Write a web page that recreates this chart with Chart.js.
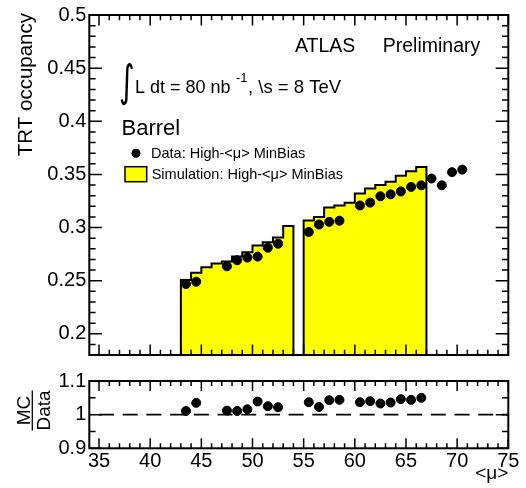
<!DOCTYPE html>
<html>
<head>
<meta charset="utf-8">
<script src="https://cdn.jsdelivr.net/npm/chart.js@4.4.1/dist/chart.umd.min.js"></script>
<style>
  html, body { margin: 0; padding: 0; background: #fff; }
  #wrap { position: relative; width: 526px; height: 488px; }
  #main { position: absolute; left: 0; top: 0; }
  #ratio { position: absolute; left: 0; top: 366px; }
</style>
</head>
<body>
<div id="wrap">
  <canvas id="main" width="526" height="370"></canvas>
  <canvas id="ratio" width="526" height="122"></canvas>
</div>
<script>
// --- values
const dataMu  = [43.5, 44.5, 47.5, 48.5, 49.5, 50.5, 51.5, 52.5,
                 55.5, 56.5, 57.5, 58.5, 60.5, 61.5, 62.5, 63.5, 64.5, 65.5, 66.5,
                 67.5, 68.5, 69.5, 70.5];
const dataOcc = [0.2468, 0.2490, 0.2635, 0.2692, 0.2717, 0.2726, 0.2810, 0.2847,
                 0.2958, 0.3028, 0.3053, 0.3064, 0.3207, 0.3234, 0.3294, 0.3312, 0.3339, 0.3382, 0.3397,
                 0.3461, 0.3397, 0.3521, 0.3545];

// simulation histogram: lower bin edge (width 1) and content
const mcBinLow = [43, 44, 45, 46, 47, 48, 49, 50, 51, 52, 53,
                  55, 56, 57, 58, 59, 60, 61, 62, 63, 64, 65, 66];
const mcOcc    = [0.2505, 0.2575, 0.2626, 0.2662, 0.2680, 0.2726, 0.2768, 0.2831, 0.2862, 0.2907, 0.3013,
                  0.3067, 0.3098, 0.3189, 0.3207, 0.3234, 0.3321, 0.3367, 0.3400, 0.3430, 0.3488, 0.3530, 0.3570];

const ratioMu  = [43.5, 44.5, 47.5, 48.5, 49.5, 50.5, 51.5, 52.5,
                  55.5, 56.5, 57.5, 58.5, 60.5, 61.5, 62.5, 63.5, 64.5, 65.5, 66.5];
const ratioVal = [1.011, 1.035, 1.012, 1.011, 1.016, 1.039, 1.025, 1.022,
                  1.037, 1.023, 1.043, 1.044, 1.037, 1.040, 1.033, 1.036, 1.046, 1.044, 1.050];

const xTicks      = [35, 40, 45, 50, 55, 60, 65, 70, 75];
const yTicksMain  = [0.2, 0.25, 0.3, 0.35, 0.4, 0.45, 0.5];
const yTicksRatio = [0.9, 1, 1.1];

const X_MIN = 34.05, X_MAX = 75;
const Y_MIN = 0.18, Y_MAX = 0.5;

const FONT = "'Liberation Sans', Arial, sans-serif";

// contiguous bins -> closed step outlines down to the axis floor
function histSegments(lows, vals, base){
  const segs = [];
  let cur = null;
  lows.forEach((lo, i) => {
    if (!cur || lo !== cur.end) {
      cur = { pts: [{ x: lo, y: base }], end: lo };
      segs.push(cur);
    }
    cur.pts.push({ x: lo, y: vals[i] });
    cur.end = lo + 1;
  });
  segs.forEach(s => s.pts.push({ x: s.end, y: base }));
  return segs.map(s => s.pts);
}

// ROOT-style frame with inward ticks on all four sides
const rootFrame = {
  id: "rootFrame",
  afterDatasetsDraw(chart, args, o){
    const { ctx, chartArea: a } = chart;
    const x = chart.scales.x, y = chart.scales.y;
    ctx.save();
    ctx.strokeStyle = "#000";
    ctx.lineWidth = 1.5;
    ctx.beginPath();
    for (let v = Math.ceil(x.min); v <= x.max + 1e-9; v++) {
      const px = x.getPixelForValue(v);
      const len = v % 5 === 0 ? o.xLen : o.xLen / 2;
      ctx.moveTo(px, a.bottom); ctx.lineTo(px, a.bottom - len);
      ctx.moveTo(px, a.top);    ctx.lineTo(px, a.top + len);
    }
    const n = Math.round((y.max - y.min) / o.yMinor);
    for (let i = 0; i <= n; i++) {
      const v = y.min + i * o.yMinor;
      const r = v / o.yMajor;
      const major = Math.abs(r - Math.round(r)) < 1e-6;
      const py = y.getPixelForValue(v);
      const len = major ? o.yLen : o.yLen / 2;
      ctx.moveTo(a.left, py);  ctx.lineTo(a.left + len, py);
      ctx.moveTo(a.right, py); ctx.lineTo(a.right - len, py);
    }
    ctx.stroke();
    ctx.lineWidth = 2;
    ctx.strokeRect(a.left, a.top, a.right - a.left, a.bottom - a.top);
    ctx.restore();
  }
};

function yScale(min, max, ticks){
  return {
    type: "linear", min, max,
    grid: { display: false, drawTicks: false },
    border: { display: false },
    ticks: { color: "#000", font: { family: FONT, size: 20 }, padding: 3, callback: v => String(v) },
    afterBuildTicks: s => { s.ticks = ticks.map(v => ({ value: v })); },
    afterFit: s => { s.width = 89.3; }
  };
}

// --- main panel
const simSegs = histSegments(mcBinLow, mcOcc, Y_MIN);

const mainLabels = {
  id: "mainLabels",
  afterDraw(chart){
    const ctx = chart.ctx;
    ctx.save();
    ctx.fillStyle = "#000";
    ctx.textBaseline = "alphabetic";

    ctx.font = `19.5px ${FONT}`;
    ctx.fillText("ATLAS", 295, 52);
    ctx.fillText("Preliminary", 382.7, 52);

    // integral sign, stretched to the height seen in the reference
    ctx.save();
    ctx.translate(119, 96);
    ctx.scale(1.0, 1.45);
    ctx.font = "30px 'DejaVu Sans'";
    ctx.fillText("\u222B", 0, 0);
    ctx.restore();

    ctx.font = `18px ${FONT}`;
    ctx.fillText("L dt = 80 nb", 135, 92.7);
    ctx.font = `13px ${FONT}`;
    ctx.fillText("-1", 236, 82);
    ctx.font = `18.5px ${FONT}`;
    ctx.fillText(", \\s = 8 TeV", 248, 92.7);

    ctx.font = `22px ${FONT}`;
    ctx.fillText("Barrel", 121.5, 135);

    // legend
    ctx.beginPath();
    ctx.arc(136, 153.3, 4.5, 0, Math.PI * 2);
    ctx.fill();
    ctx.font = `14.5px ${FONT}`;
    ctx.fillText("Data: High-<\u03BC> MinBias", 151, 157.7);
    ctx.fillStyle = "#ffff00";
    ctx.fillRect(125, 166.7, 21.7, 15);
    ctx.strokeStyle = "#000";
    ctx.lineWidth = 1.5;
    ctx.strokeRect(125, 166.7, 21.7, 15);
    ctx.fillStyle = "#000";
    ctx.fillText("Simulation: High-<\u03BC> MinBias", 151.7, 179);

    // y title
    ctx.translate(31.7, 13);
    ctx.rotate(-Math.PI / 2);
    ctx.textAlign = "right";
    ctx.font = `20.5px ${FONT}`;
    ctx.fillText("TRT occupancy", 0, 0);
    ctx.restore();
  }
};

new Chart(document.getElementById("main"), {
  type: "scatter",
  data: {
    datasets: [
      {
        label: "Data: High-<\u03BC> MinBias",
        data: dataMu.map((m, i) => ({ x: m, y: dataOcc[i] })),
        backgroundColor: "#000", borderColor: "#000",
        pointRadius: 4.5, pointHoverRadius: 4.5, order: 0
      },
      ...simSegs.map(pts => ({
        type: "line",
        label: "Simulation: High-<\u03BC> MinBias",
        data: pts,
        stepped: "before",
        fill: "start",
        backgroundColor: "#ffff00",
        borderColor: "#000",
        borderWidth: 2,
        pointRadius: 0,
        order: 1
      }))
    ]
  },
  options: {
    responsive: false,
    animation: false,
    layout: { padding: { left: 0, right: 17.7, top: 12.7, bottom: 4.7 } },
    plugins: { legend: { display: false }, tooltip: { enabled: false }, rootFrame: { xLen: 10.5, yLen: 12.6, yMinor: 0.01, yMajor: 0.05 } },
    scales: {
      x: { type: "linear", min: X_MIN, max: X_MAX, display: false },
      y: yScale(Y_MIN, Y_MAX, yTicksMain)
    }
  },
  plugins: [rootFrame, mainLabels]
});

// --- ratio panel
const ratioDecor = {
  id: "ratioDecor",
  beforeDatasetsDraw(chart){
    const { ctx } = chart;
    const x = chart.scales.x, y = chart.scales.y;
    ctx.save();
    ctx.strokeStyle = "#000";
    ctx.lineWidth = 1.7;
    ctx.setLineDash([15, 8.7]);
    ctx.beginPath();
    ctx.moveTo(x.getPixelForValue(xTicks[0]), y.getPixelForValue(1));
    ctx.lineTo(chart.chartArea.right, y.getPixelForValue(1));
    ctx.stroke();
    ctx.restore();
  },
  afterDraw(chart){
    const ctx = chart.ctx;
    ctx.save();
    ctx.fillStyle = "#000";
    ctx.font = `19px ${FONT}`;
    ctx.textAlign = "right";
    ctx.fillText("<\u03BC>", 508.3, 113);

    // MC / Data rotated fraction
    ctx.translate(0, 44.5);
    ctx.rotate(-Math.PI / 2);
    ctx.textAlign = "center";
    ctx.fillText("MC", 0, 30);
    ctx.fillText("Data", 0, 50);
    ctx.lineWidth = 1.3;
    ctx.beginPath();
    ctx.moveTo(-20, 32.3); ctx.lineTo(20, 32.3);
    ctx.stroke();
    ctx.restore();
  }
};

new Chart(document.getElementById("ratio"), {
  type: "scatter",
  data: {
    datasets: [{
      label: "MC/Data",
      data: ratioMu.map((m, i) => ({ x: m, y: ratioVal[i] })),
      backgroundColor: "#000", borderColor: "#000",
      pointRadius: 4.5, pointHoverRadius: 4.5
    }]
  },
  options: {
    responsive: false,
    animation: false,
    layout: { padding: { left: 0, right: 17.7, top: 5.7, bottom: 0 } },
    plugins: { legend: { display: false }, tooltip: { enabled: false }, rootFrame: { xLen: 10, yLen: 12.6, yMinor: 0.05, yMajor: 0.1 } },
    scales: {
      x: {
        type: "linear", min: X_MIN, max: X_MAX,
        grid: { display: false, drawTicks: false },
        border: { display: false },
        ticks: { color: "#000", font: { family: FONT, size: 20 }, padding: 1, maxRotation: 0, autoSkip: false },
        afterBuildTicks: s => { s.ticks = xTicks.map(v => ({ value: v })); },
        afterFit: s => { s.height = 39.7; }
      },
      y: yScale(0.9, 1.1, yTicksRatio)
    }
  },
  plugins: [rootFrame, ratioDecor]
});
</script>
</body>
</html>
